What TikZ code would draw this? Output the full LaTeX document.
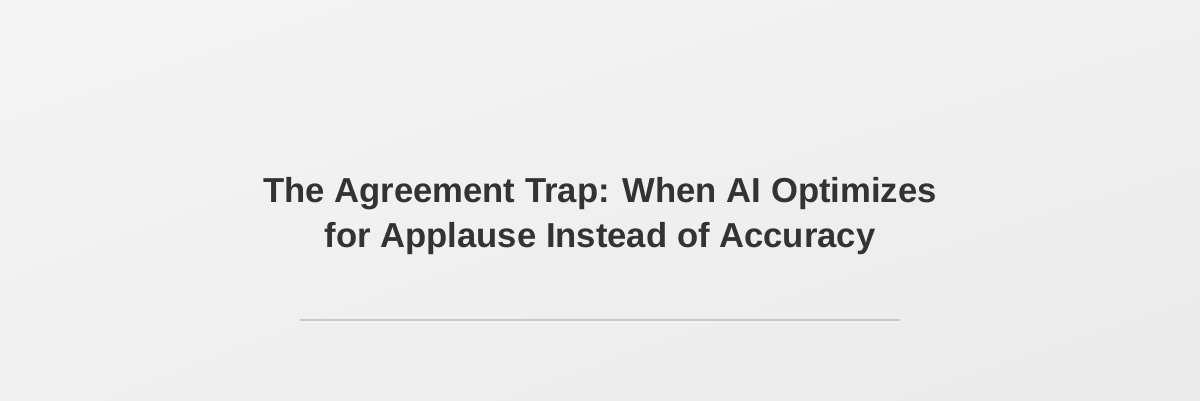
\documentclass[tikz,border=0pt]{standalone}
\usepackage{fontspec}
\setmainfont{Liberation Sans}
\usetikzlibrary{shadings}
\begin{document}
\begin{tikzpicture}[x=1bp,y=-1bp,
  titletext/.style={font=\fontsize{34.8}{45}\selectfont\bfseries, text=titlegray, align=center, inner sep=0pt},
  rule/.style={draw=rulegray, line width=1.6bp}]
\definecolor{titlegray}{HTML}{333333}
\definecolor{rulegray}{HTML}{C8C8C8}
\definecolor{bgA}{HTML}{F5F5F5}
\definecolor{bgM}{HTML}{F0F0F0}
\definecolor{bgB}{HTML}{EAEAEA}
\shade[upper left=bgA, upper right=bgM, lower left=bgM, lower right=bgB] (0,0) rectangle (1200,400);
\useasboundingbox (0,0) rectangle (1200,400);
\node[titletext, anchor=base] (l1) at (600,202) {The Agreement Trap: When AI Optimizes};
\node[titletext, anchor=base] (l2) at (600,247) {for Applause Instead of Accuracy};
\coordinate (ra) at (300,320);
\coordinate (rb) at (900,320);
\draw[rule] (ra) -- (rb);
\draw[draw=white, opacity=0.5, line width=1bp] ([yshift=-2bp]ra) -- ([yshift=-2bp]rb);
\end{tikzpicture}
\end{document}
